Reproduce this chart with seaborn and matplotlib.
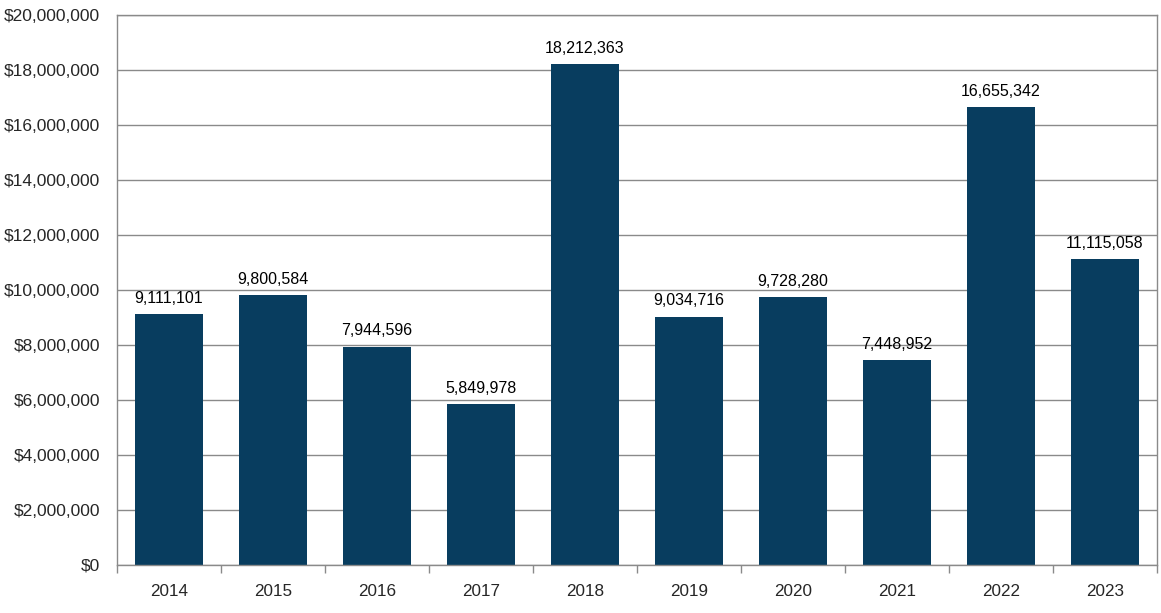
import matplotlib
matplotlib.use('Agg')
import matplotlib.pyplot as plt
import seaborn as sns
import pandas as pd
from matplotlib.ticker import FuncFormatter, FixedLocator

years = ['2014', '2015', '2016', '2017', '2018', '2019', '2020', '2021', '2022', '2023']
amounts = [9111101, 9800584, 7944596, 5849978, 18212363, 9034716, 9728280, 7448952, 16655342, 11115058]

df = pd.DataFrame({'year': years, 'amount': amounts})

sns.set_style('white')
plt.rcParams['font.family'] = ['Liberation Sans', 'DejaVu Sans']

fig = plt.figure(figsize=(11.61, 6.13), dpi=100)
ax = fig.add_axes([117 / 1161, 48 / 613, 1040 / 1161, 550 / 613])

sns.barplot(data=df, x='year', y='amount', color='#083d5f', width=0.66,
            saturation=1, linewidth=0, ax=ax)

ax.set_ylim(0, 20000000)
ax.set_xlim(-0.5, len(years) - 0.5)
ax.set_yticks(range(0, 20000001, 2000000))
ax.yaxis.set_major_formatter(FuncFormatter(lambda v, p: f'${v:,.0f}'))
ax.yaxis.grid(True, color='#8a8a8a', linewidth=1)
ax.set_axisbelow(True)

# x ticks at category boundaries, labels at centers
ax.xaxis.set_major_locator(FixedLocator([i - 0.5 for i in range(len(years) + 1)]))
ax.xaxis.set_minor_locator(FixedLocator(range(len(years))))
ax.set_xticklabels([])
ax.set_xticklabels(years, minor=True)
ax.tick_params(axis='x', which='major', length=6, color='#8a8a8a', width=1, direction='out', bottom=True)
ax.tick_params(axis='x', which='minor', length=0, labelsize=12.3, pad=14)
ax.tick_params(axis='y', length=0, labelsize=12.5, pad=12)

for s in ax.spines.values():
    s.set_color('#8a8a8a')
    s.set_linewidth(1)

for i, v in enumerate(amounts):
    ax.text(i, v + 300000, f'{v:,}', ha='center', va='bottom', fontsize=11.5, color='black')

ax.set_xlabel('')
ax.set_ylabel('')

fig.savefig('out.png', dpi=100)
